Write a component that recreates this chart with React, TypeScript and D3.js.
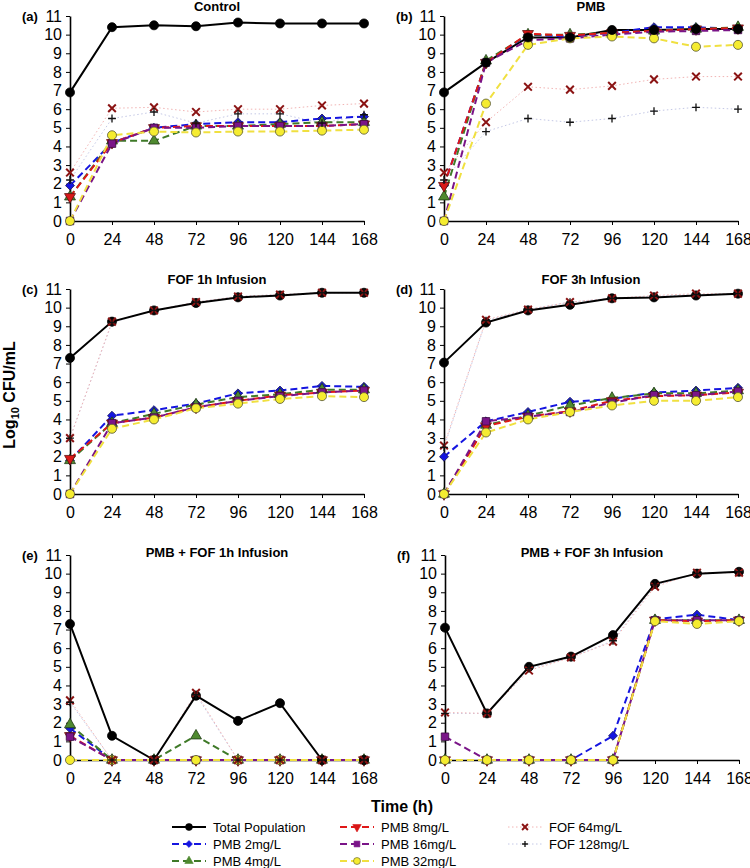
import React, { useEffect, useRef } from "react";
import * as d3 from "d3";

// sampling times (h)
const times = [0, 24, 48, 72, 96, 120, 144, 168];
const yTicks = [0, 1, 2, 3, 4, 5, 6, 7, 8, 9, 10, 11];

// (a) Control
const aTotal = [6.9, 10.4, 10.5, 10.45, 10.65, 10.6, 10.6, 10.6];
const aPmb2 = [1.9, 4.2, 5.0, 5.2, 5.3, 5.3, 5.5, 5.6];
const aPmb4 = [1.3, 4.3, 4.3, 5.1, 5.1, 5.2, 5.3, 5.3];
const aPmb8 = [1.3, 4.2, 5.0, 5.1, 5.1, 5.1, 5.1, 5.2];
const aPmb16 = [0, 4.15, 5.0, 5.0, 5.1, 5.1, 5.1, 5.2];
const aPmb32 = [0, 4.6, 4.8, 4.75, 4.8, 4.8, 4.85, 4.9];
const aFof64 = [2.6, 6.05, 6.1, 5.85, 6.0, 6.0, 6.2, 6.3];
const aFof128 = [2.2, 5.5, 5.85, 5.25, 5.75, 5.75, 5.25, 5.7];

// (b) PMB
const bTotal = [6.9, 8.5, 9.85, 9.85, 10.25, 10.25, 10.3, 10.3];
const bPmb2 = [1.9, 8.5, 10.0, 9.9, 10.1, 10.4, 10.4, 10.3];
const bPmb4 = [1.3, 8.6, 10.0, 10.0, 10.1, 10.2, 10.3, 10.4];
const bPmb8 = [1.9, 8.5, 10.05, 9.95, 10.1, 10.2, 10.3, 10.35];
const bPmb16 = [0, 8.5, 9.7, 9.8, 10.0, 10.15, 10.2, 10.25];
const bPmb32 = [0, 6.3, 9.45, 9.8, 9.9, 9.8, 9.35, 9.45];
const bFof64 = [2.6, 5.3, 7.2, 7.05, 7.25, 7.6, 7.75, 7.75];
const bFof128 = [2.2, 4.8, 5.5, 5.3, 5.5, 5.9, 6.1, 6.0];

// (c) FOF 1h infusion
const cTotal = [7.3, 9.25, 9.85, 10.25, 10.55, 10.65, 10.8, 10.8];
const cPmb2 = [1.8, 4.2, 4.5, 4.85, 5.4, 5.55, 5.8, 5.75];
const cPmb4 = [1.8, 3.8, 4.3, 4.8, 5.2, 5.35, 5.6, 5.6];
const cPmb8 = [1.9, 3.8, 4.1, 4.65, 5.0, 5.3, 5.45, 5.55];
const cPmb16 = [0, 3.8, 4.1, 4.65, 5.0, 5.25, 5.45, 5.55];
const cPmb32 = [0, 3.5, 4.0, 4.6, 4.85, 5.1, 5.25, 5.2];
const cFof64 = [3.0, 9.25, 9.85, 10.3, 10.6, 10.7, 10.8, 10.8];
const cFof128 = [3.0, 9.2, 9.85, 10.3, 10.6, 10.7, 10.8, 10.8];

// (d) FOF 3h infusion
const dTotal = [7.05, 9.2, 9.85, 10.15, 10.5, 10.55, 10.65, 10.75];
const dPmb2 = [2.0, 3.9, 4.4, 4.95, 5.1, 5.45, 5.55, 5.7];
const dPmb4 = [0, 3.7, 4.2, 4.75, 5.15, 5.4, 5.4, 5.55];
const dPmb8 = [0, 3.65, 4.15, 4.45, 5.0, 5.25, 5.3, 5.45];
const dPmb16 = [0, 3.9, 4.15, 4.4, 4.9, 5.3, 5.3, 5.5];
const dPmb32 = [0, 3.3, 4.0, 4.4, 4.75, 5.0, 5.0, 5.2];
const dFof64 = [2.6, 9.35, 9.9, 10.3, 10.5, 10.65, 10.75, 10.75];
const dFof128 = [2.5, 9.3, 9.9, 10.3, 10.5, 10.6, 10.7, 10.75];

// (e) PMB + FOF 1h infusion
const eTotal = [7.3, 1.3, 0, 3.45, 2.1, 3.05, 0, 0];
const ePmb2 = [1.7, 0, 0, 0, 0, 0, 0, 0];
const ePmb4 = [1.9, 0, 0, 1.3, 0, 0, 0, 0];
const ePmb8 = [1.3, 0, 0, 0, 0, 0, 0, 0];
const ePmb16 = [1.25, 0, 0, 0, 0, 0, 0, 0];
const ePmb32 = [0, 0, 0, 0, 0, 0, 0, 0];
const eFof64 = [3.2, 0, 0, 3.6, 0, 0, 0, 0];
const eFof128 = [3.1, 0, 0, 3.5, 0, 0, 0, 0];

// (f) PMB + FOF 3h infusion
const fTotal = [7.1, 2.5, 5.0, 5.55, 6.7, 9.45, 10.0, 10.1];
const fPmb2 = [0, 0, 0, 0, 1.3, 7.55, 7.8, 7.5];
const fPmb4 = [0, 0, 0, 0, 0, 7.5, 7.5, 7.5];
const fPmb8 = [0, 0, 0, 0, 0, 7.5, 7.45, 7.5];
const fPmb16 = [1.25, 0, 0, 0, 0, 7.5, 7.5, 7.5];
const fPmb32 = [0, 0, 0, 0, 0, 7.45, 7.3, 7.45];
const fFof64 = [2.55, 2.5, 4.8, 5.5, 6.35, 9.3, 10.05, 10.05];
const fFof128 = [2.5, 2.5, 4.9, 5.5, 6.4, 9.4, 10.0, 10.1];

const seriesNames = [
  "Total Population",
  "PMB 2mg/L",
  "PMB 4mg/L",
  "PMB 8mg/L",
  "PMB 16mg/L",
  "PMB 32mg/L",
  "FOF 64mg/L",
  "FOF 128mg/L",
];

const panelTitles = [
  "Control",
  "PMB",
  "FOF 1h Infusion",
  "FOF 3h Infusion",
  "PMB + FOF 1h Infusion",
  "PMB + FOF 3h Infusion",
];
const panelLetters = ["(a)", "(b)", "(c)", "(d)", "(e)", "(f)"];

const panelData = [
  [aTotal, aPmb2, aPmb4, aPmb8, aPmb16, aPmb32, aFof64, aFof128],
  [bTotal, bPmb2, bPmb4, bPmb8, bPmb16, bPmb32, bFof64, bFof128],
  [cTotal, cPmb2, cPmb4, cPmb8, cPmb16, cPmb32, cFof64, cFof128],
  [dTotal, dPmb2, dPmb4, dPmb8, dPmb16, dPmb32, dFof64, dFof128],
  [eTotal, ePmb2, ePmb4, ePmb8, ePmb16, ePmb32, eFof64, eFof128],
  [fTotal, fPmb2, fPmb4, fPmb8, fPmb16, fPmb32, fFof64, fFof128],
];

const symTimes = (d3 as any).symbolTimes || d3.symbolCross;
const symPlus = (d3 as any).symbolPlus || d3.symbolCross;

// style per series
const styles = [
  { line: "#000000", width: 2, dash: null, sym: d3.symbolCircle, size: 64, fill: "#000000", stroke: "#000000", rot: 0 },
  { line: "#1515e0", width: 2, dash: "7,4", sym: d3.symbolSquare, size: 40, fill: "#1515e0", stroke: "#1a1a60", rot: 45 },
  { line: "#3f7a28", width: 2, dash: "7,4", sym: d3.symbolTriangle, size: 52, fill: "#4f8a30", stroke: "#1f3a14", rot: 0 },
  { line: "#e01818", width: 2, dash: "7,4", sym: d3.symbolTriangle, size: 52, fill: "#d81818", stroke: "#601010", rot: 180 },
  { line: "#7a1488", width: 2, dash: "7,4", sym: d3.symbolSquare, size: 56, fill: "#7a1488", stroke: "#3a0a40", rot: 0 },
  { line: "#f0e040", width: 2, dash: "7,4", sym: d3.symbolCircle, size: 64, fill: "#f5ec30", stroke: "#555533", rot: 0 },
  { line: "#f2b4b4", width: 1, dash: "1.5,2.5", sym: symTimes, size: 40, fill: "none", stroke: "#8b1414", rot: 0, sw: 2 },
  { line: "#c4c8e6", width: 1, dash: "1.5,2.5", sym: symPlus, size: 22, fill: "none", stroke: "#111111", rot: 0, sw: 1.3 },
];

const lineOrder = [7, 6, 0, 1, 2, 3, 4, 5];
const markerOrder = [1, 2, 3, 4, 5, 0, 6, 7];

const colX = [70, 444];
const rowY = [16, 289, 555];
const plotW = 294;
const plotH = 205;

const font = "'Liberation Sans', Arial, sans-serif";

export default function App() {
  const ref = useRef<SVGSVGElement | null>(null);

  useEffect(() => {
    const svg = d3.select(ref.current);
    svg.selectAll("*").remove();

    panelData.forEach((series, pi) => {
      const x0 = colX[pi % 2] + (pi === 5 ? 1 : 0);
      const y0 = rowY[Math.floor(pi / 2)];
      const x = d3.scaleLinear().domain([0, 168]).range([x0, x0 + plotW]);
      const y = d3.scaleLinear().domain([0, 11]).range([y0 + plotH, y0]);

      const g = svg.append("g");

      // axes
      const yAxis = g
        .append("g")
        .attr("transform", `translate(${x0},0)`)
        .call(d3.axisLeft(y).tickValues(yTicks).tickSizeInner(4).tickSizeOuter(0).tickPadding(4));
      const xAxis = g
        .append("g")
        .attr("transform", `translate(0,${y0 + plotH})`)
        .call(d3.axisBottom(x).tickValues(times).tickSizeInner(4).tickSizeOuter(0).tickPadding(9));
      [yAxis, xAxis].forEach((ax) => {
        ax.select(".domain").attr("stroke", "#000").attr("stroke-width", 1.6);
        ax.selectAll(".tick line").attr("stroke", "#000").attr("stroke-width", 1);
        ax.selectAll("text")
          .attr("fill", "#000")
          .style("font-size", "16px")
          .style("font-family", font);
      });

      // lines
      lineOrder.forEach((si) => {
        const st = styles[si];
        const vals = series[si];
        const line = d3
          .line<number>()
          .x((_, i) => x(times[i]))
          .y((d) => y(d));
        g.append("path")
          .attr("d", line(vals))
          .attr("fill", "none")
          .attr("stroke", st.line)
          .attr("stroke-width", st.width)
          .attr("stroke-dasharray", st.dash);
      });

      // markers
      markerOrder.forEach((si) => {
        const st = styles[si];
        const vals = series[si];
        const sym = d3.symbol().type(st.sym).size(st.size);
        g.selectAll(null)
          .data(vals)
          .enter()
          .append("path")
          .attr("d", sym() as string)
          .attr("transform", (d, i) => `translate(${x(times[i])},${y(d)}) rotate(${st.rot})`)
          .attr("fill", st.fill)
          .attr("stroke", st.stroke)
          .attr("stroke-width", (st as any).sw || 0.8);
      });

      // title + letter
      g.append("text")
        .attr("x", x0 + plotW / 2)
        .attr("y", pi >= 4 ? y0 + 2 : y0 - 5)
        .attr("text-anchor", "middle")
        .style("font-family", font)
        .style("font-size", "13px")
        .style("font-weight", "bold")
        .text(panelTitles[pi]);
      g.append("text")
        .attr("x", x0 - 48)
        .attr("y", y0 + 5)
        .style("font-family", font)
        .style("font-size", "13px")
        .style("font-weight", "bold")
        .text(panelLetters[pi]);
    });

    // y label
    const yl = svg
      .append("text")
      .attr("transform", "translate(15,395) rotate(-90)")
      .attr("text-anchor", "middle")
      .style("font-family", font)
      .style("font-size", "16px")
      .style("font-weight", "bold");
    yl.append("tspan").text("Log");
    yl.append("tspan").attr("dy", 4).style("font-size", "11px").text("10");
    yl.append("tspan").attr("dy", -4).text(" CFU/mL");

    // x label
    svg
      .append("text")
      .attr("x", 402)
      .attr("y", 812)
      .attr("text-anchor", "middle")
      .style("font-family", font)
      .style("font-size", "16px")
      .style("font-weight", "bold")
      .text("Time (h)");

    // legend
    const legCols = [172, 340, 508];
    const legRows = [827, 844, 861];
    seriesNames.forEach((name, i) => {
      const col = Math.floor(i / 3);
      const row = i % 3;
      const st = styles[i];
      const lx = legCols[col];
      const ly = legRows[row];
      const lg = svg.append("g");
      lg.append("line")
        .attr("x1", lx)
        .attr("x2", lx + 34)
        .attr("y1", ly)
        .attr("y2", ly)
        .attr("stroke", st.line)
        .attr("stroke-width", st.width)
        .attr("stroke-dasharray", st.dash);
      lg.append("path")
        .attr("d", d3.symbol().type(st.sym).size(st.size * 0.6)() as string)
        .attr("transform", `translate(${lx + 17},${ly}) rotate(${st.rot})`)
        .attr("fill", st.fill)
        .attr("stroke", i === 0 || i === 5 ? st.stroke : st.fill === "none" ? st.stroke : st.fill)
        .attr("stroke-width", (st as any).sw || 0.6);
      lg.append("text")
        .attr("x", lx + 41)
        .attr("y", ly + 5)
        .style("font-family", font)
        .style("font-size", "13px")
        .text(name);
    });
  }, []);

  return (
    <svg
      ref={ref}
      width={750}
      height={868}
      style={{ position: "absolute", left: 0, top: 0, background: "#fff" }}
    />
  );
}
